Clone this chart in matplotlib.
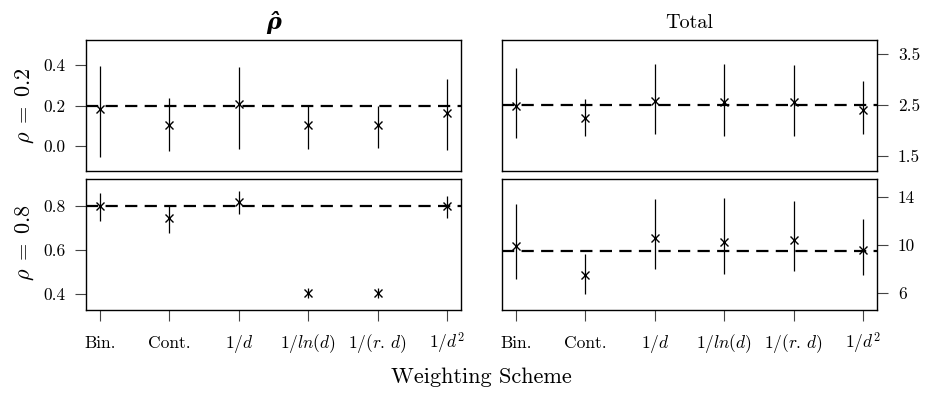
import matplotlib
matplotlib.use("Agg")
import matplotlib.pyplot as plt

plt.rcParams["font.family"] = "serif"
plt.rcParams["font.serif"] = ["cmr10"]
plt.rcParams["mathtext.fontset"] = "cm"
plt.rcParams["axes.unicode_minus"] = False

# weighting schemes along the x axis
schemes = ["Bin.", "Cont.", r"$1/d$", r"$1/ln(d)$", r"$1/(r.\,d)$", r"$1/d^2$"]
xpos = [1, 2, 3, 4, 5, 6]

# rho estimates, rho = 0.2
rho02_est = [0.185, 0.102, 0.207, 0.102, 0.102, 0.163]
rho02_lo = [-0.058, -0.025, -0.015, -0.018, -0.013, -0.020]
rho02_hi = [0.398, 0.238, 0.392, 0.200, 0.200, 0.332]

# rho estimates, rho = 0.8
rho08_est = [0.800, 0.744, 0.817, 0.404, 0.404, 0.800]
rho08_lo = [0.732, 0.677, 0.762, 0.382, 0.382, 0.744]
rho08_hi = [0.860, 0.800, 0.868, 0.427, 0.427, 0.845]

# total effect, rho = 0.2
total02_est = [2.486, 2.245, 2.571, 2.551, 2.551, 2.408]
total02_lo = [1.853, 1.885, 1.937, 1.885, 1.898, 1.931]
total02_hi = [3.225, 2.618, 3.304, 3.310, 3.276, 2.976]

# total effect, rho = 0.8
total08_est = [9.89, 7.45, 10.53, 10.25, 10.39, 9.56]
total08_lo = [7.11, 5.86, 7.95, 7.53, 7.78, 7.45]
total08_hi = [13.36, 9.20, 13.78, 13.86, 13.64, 12.12]

# true values (dashed reference lines)
true_rho = [0.2, 0.8]
true_total = [2.5, 9.5]

W, H = 926, 394
fig = plt.figure(figsize=(W / 100, H / 100), dpi=100)


def make_ax(x0, y0, x1, y1):
    return fig.add_axes([x0 / W, 1 - y1 / H, (x1 - x0) / W, (y1 - y0) / H])


ax_tl = make_ax(86, 40, 461, 171)
ax_tr = make_ax(502, 40, 877, 171)
ax_bl = make_ax(86, 179.3, 461, 310)
ax_br = make_ax(502, 179.3, 877, 310)

panels = [
    (ax_tl, rho02_est, rho02_lo, rho02_hi, true_rho[0], (-0.125, 0.525), [0.0, 0.2, 0.4]),
    (ax_bl, rho08_est, rho08_lo, rho08_hi, true_rho[1], (0.329, 0.921), [0.4, 0.6, 0.8]),
    (ax_tr, total02_est, total02_lo, total02_hi, true_total[0], (1.206, 3.775), [1.5, 2.5, 3.5]),
    (ax_br, total08_est, total08_lo, total08_hi, true_total[1], (4.56, 15.45), [6, 10, 14]),
]

for ax, est, lo, hi, truth, ylim, yt in panels:
    ax.vlines(xpos, lo, hi, color="black", lw=0.9)
    ax.plot(xpos, est, "x", color="black", ms=6, mew=1.0)
    ax.axhline(truth, color="black", lw=1.6, ls=(0, (5.5, 3.3)))
    ax.set_xlim(0.8, 6.2)
    ax.set_ylim(*ylim)
    ax.set_yticks(yt)
    if isinstance(yt[0], float):
        ax.set_yticklabels(["%.1f" % v for v in yt])
    else:
        ax.set_yticklabels([str(v) for v in yt])
    for s in ax.spines.values():
        s.set_linewidth(1.0)
        s.set_color("black")
    ax.tick_params(axis="y", direction="out", length=8, width=0.8, pad=7,
                   labelsize=12.5, color="#444444")
    ax.tick_params(axis="x", direction="out", length=8, width=0.8, pad=19.5,
                   labelsize=12.5, color="#444444")

for ax in (ax_tl, ax_tr):
    ax.set_xticks([])

# put every scheme label on a common baseline, text and math alike
for ax in (ax_bl, ax_br):
    ax.set_xticks(xpos)
    ax.set_xticklabels(schemes)
    for lab in ax.get_xticklabels():
        lab.set_va("baseline")

for ax in (ax_tr, ax_br):
    ax.yaxis.tick_right()

# bold italic rho with a combining circumflex
ax_tl.set_title("\u03c1\u0302", fontsize=16, pad=8, family="DejaVu Serif",
                fontweight="bold", fontstyle="italic")
ax_tr.set_title("Total", fontsize=14.5, pad=9)

fig.text(25 / W, 1 - 105.5 / H, r"$\rho\;=\;0.2$", rotation=90, fontsize=16,
         ha="center", va="center")
fig.text(25 / W, 1 - 243 / H, r"$\rho\;=\;0.8$", rotation=90, fontsize=16,
         ha="center", va="center")
fig.text(481 / W, 1 - 377 / H, "Weighting Scheme", fontsize=16,
         ha="center", va="center")

fig.savefig("out.png", dpi=100)
